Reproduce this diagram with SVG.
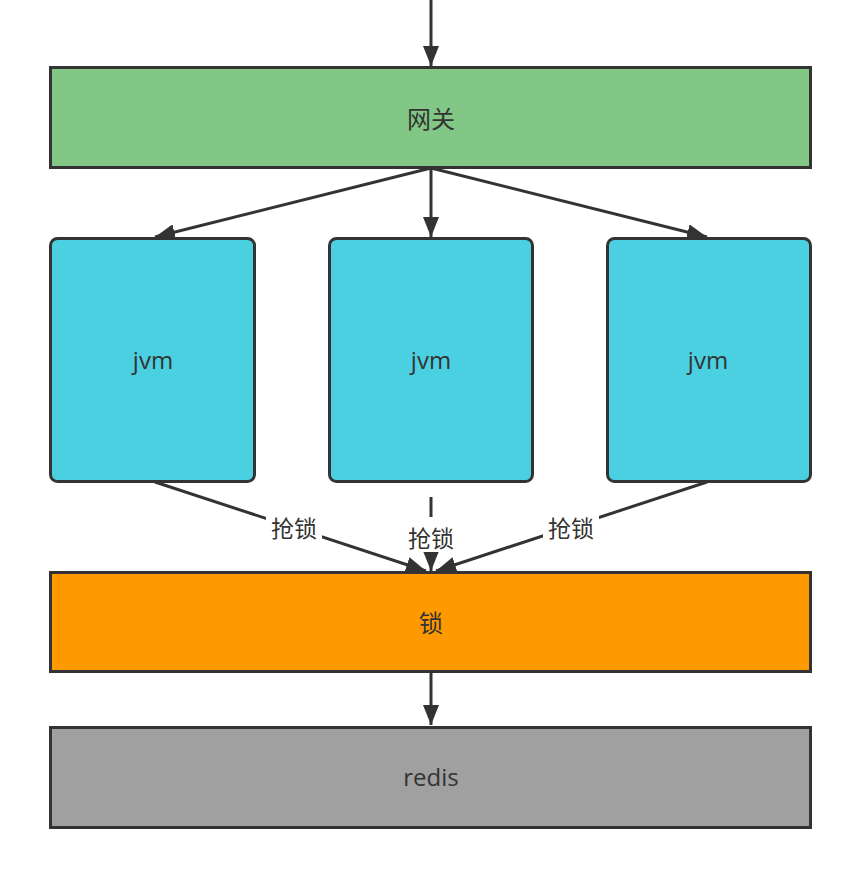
<svg xmlns="http://www.w3.org/2000/svg" width="863" height="872" viewBox="0 0 863 872">
<style>
.box{stroke:#333333;stroke-width:3}
.t{font-family:"Open Sans","Noto Sans CJK SC",sans-serif;font-size:24px;fill:#333333;text-anchor:middle;dominant-baseline:central}
.e{stroke:#333333;stroke-width:3;fill:none}
.lbl{font-family:"Noto Sans CJK SC",sans-serif;font-size:23px;fill:#333333;text-anchor:middle;dominant-baseline:central}
</style>
<defs>
<marker id="ah" viewBox="0 0 20 16" refX="20" refY="8" markerWidth="20" markerHeight="16" markerUnits="userSpaceOnUse" orient="auto">
<path d="M0,0 L20,8 L0,16 Z" fill="#333333"/>
</marker>
</defs>
<rect width="863" height="872" fill="#ffffff"/>
<g id="edges">
<line class="e" x1="431" y1="0" x2="431" y2="66" marker-end="url(#ah)"/>
<line class="e" x1="431" y1="168" x2="155" y2="237" marker-end="url(#ah)"/>
<line class="e" x1="431" y1="168" x2="431" y2="237" marker-end="url(#ah)"/>
<line class="e" x1="431" y1="168" x2="707" y2="237" marker-end="url(#ah)"/>
<line class="e" x1="155" y1="482" x2="426" y2="571" marker-end="url(#ah)"/>
<line class="e" x1="431" y1="497" x2="431" y2="517"/>
<line class="e" x1="431" y1="552" x2="431" y2="571" marker-end="url(#ah)"/>
<line class="e" x1="707" y1="482" x2="436" y2="571" marker-end="url(#ah)"/>
<line class="e" x1="431" y1="672" x2="431" y2="725" marker-end="url(#ah)"/>
<rect x="266" y="512" width="56" height="30" fill="#ffffff"/>
<text class="lbl" x="294" y="527">抢锁</text>
<rect x="403" y="522" width="56" height="30" fill="#ffffff"/>
<text class="lbl" x="431" y="537">抢锁</text>
<rect x="543" y="512" width="56" height="30" fill="#ffffff"/>
<text class="lbl" x="571" y="527">抢锁</text>
</g>
<g id="gateway">
<rect class="box" x="50.5" y="67.5" width="760" height="100" fill="#82C785"/>
<text class="t" x="431" y="118">网关</text>
</g>
<g id="jvm1">
<rect class="box" x="50.5" y="238.5" width="204" height="243" rx="7" fill="#4BD0E2"/>
<text class="t" x="153" y="359">jvm</text>
</g>
<g id="jvm2">
<rect class="box" x="329.5" y="238.5" width="203" height="243" rx="7" fill="#4BD0E2"/>
<text class="t" x="431" y="359">jvm</text>
</g>
<g id="jvm3">
<rect class="box" x="607.5" y="238.5" width="203" height="243" rx="7" fill="#4BD0E2"/>
<text class="t" x="708" y="359">jvm</text>
</g>
<g id="lock">
<rect class="box" x="50.5" y="572.5" width="760" height="99" fill="#FF9900"/>
<text class="t" x="431" y="622">锁</text>
</g>
<g id="redis">
<rect class="box" x="50.5" y="727.5" width="760" height="100" fill="#A0A0A0"/>
<text class="t" x="431" y="776">redis</text>
</g>
</svg>
